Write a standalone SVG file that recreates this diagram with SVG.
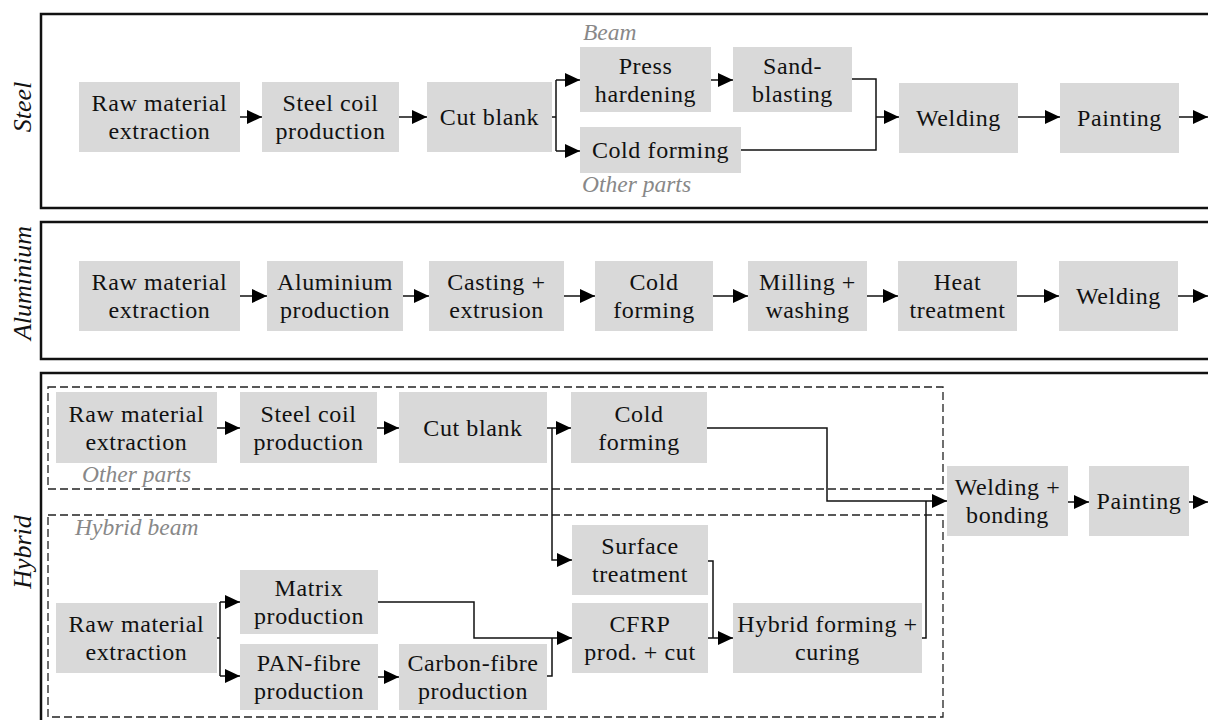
<svg xmlns="http://www.w3.org/2000/svg" width="1208" height="720" viewBox="0 0 1208 720">
<defs>
<marker id="ah" markerUnits="userSpaceOnUse" viewBox="0 0 15 14" markerWidth="15" markerHeight="14" refX="15" refY="7" orient="auto"><path d="M0,0L15,7L0,14z" fill="#000"/></marker>
<style>
.panel{fill:none;stroke:#111;stroke-width:2.5}
.dash{fill:none;stroke:#222;stroke-width:1.3;stroke-dasharray:8 4}
.n rect{fill:#d9d9d9}
.n text{font-family:"Liberation Serif",serif;font-size:24px;letter-spacing:0.6px;text-anchor:middle;fill:#111}
.side{font-family:"Liberation Serif",serif;font-style:italic;font-size:26px;text-anchor:middle;fill:#111}
.lbl{font-family:"Liberation Serif",serif;font-style:italic;font-size:23.5px;fill:#888}
#conn path{fill:none;stroke:#111;stroke-width:1.5}
#conn path.a{marker-end:url(#ah)}
</style>
</defs>
<rect width="1208" height="720" fill="#fff"/>
<g id="panels">
<rect class="panel" x="41" y="14" width="1180" height="194"/>
<rect class="panel" x="41" y="222" width="1180" height="137"/>
<rect class="panel" x="41" y="373" width="1180" height="360"/>
<rect class="dash" x="48" y="387" width="895" height="102"/>
<rect class="dash" x="48" y="515" width="895" height="202"/>
<text class="side" transform="translate(31,107) rotate(-90)">Steel</text>
<text class="side" transform="translate(31,283) rotate(-90)">Aluminium</text>
<text class="side" transform="translate(31,552) rotate(-90)">Hybrid</text>
<text class="lbl" x="583" y="40">Beam</text>
<text class="lbl" x="582" y="192">Other parts</text>
<text class="lbl" x="82" y="482">Other parts</text>
<text class="lbl" x="75" y="535">Hybrid beam</text>
</g>
<g id="conn">
<path class="a" d="M240,117H262"/>
<path class="a" d="M399,117H427"/>
<path d="M552,117H556M556,80V151"/>
<path class="a" d="M556,80H580"/>
<path class="a" d="M556,151H580"/>
<path class="a" d="M711,80H733"/>
<path d="M852,79H876V150H741"/>
<path class="a" d="M876,117H899"/>
<path class="a" d="M1018,117H1060"/>
<path class="a" d="M1179,117H1208"/>
<path class="a" d="M240,296H267"/>
<path class="a" d="M403,296H429"/>
<path class="a" d="M564,296H595"/>
<path class="a" d="M713,296H748"/>
<path class="a" d="M867,296H898"/>
<path class="a" d="M1017,296H1059"/>
<path class="a" d="M1178,296H1208"/>
<path class="a" d="M217,428H240"/>
<path class="a" d="M377,428H399"/>
<path class="a" d="M547,428H571"/>
<path class="a" d="M552,428V560H572"/>
<path class="a" d="M707,428H827V501H947"/>
<path d="M922,638H926V501"/>
<path class="a" d="M1068,502H1089"/>
<path class="a" d="M1189,502H1208"/>
<path d="M217,638H220M220,602V676"/>
<path class="a" d="M220,602H240"/>
<path class="a" d="M220,676H240"/>
<path class="a" d="M378,677H399"/>
<path class="a" d="M378,602H474V638H572"/>
<path d="M547,676H552V638"/>
<path d="M708,561H713V638"/>
<path class="a" d="M708,638H733"/>
</g>
<g id="s1" class="n"><rect x="79" y="82" width="161" height="70"/><text x="159.5" y="111">Raw material</text><text x="159.5" y="139">extraction</text></g>
<g id="s2" class="n"><rect x="262" y="82" width="137" height="70"/><text x="330.5" y="111">Steel coil</text><text x="330.5" y="139">production</text></g>
<g id="s3" class="n"><rect x="427" y="82" width="125" height="70"/><text x="489.5" y="125">Cut blank</text></g>
<g id="s4" class="n"><rect x="580" y="47" width="131" height="65"/><text x="645.5" y="74">Press</text><text x="645.5" y="102">hardening</text></g>
<g id="s5" class="n"><rect x="733" y="47" width="119" height="65"/><text x="792.5" y="74">Sand-</text><text x="792.5" y="102">blasting</text></g>
<g id="s6" class="n"><rect x="580" y="127" width="161" height="46"/><text x="660.5" y="158">Cold forming</text></g>
<g id="s7" class="n"><rect x="899" y="83" width="119" height="70"/><text x="958.5" y="126">Welding</text></g>
<g id="s8" class="n"><rect x="1060" y="83" width="119" height="70"/><text x="1119.5" y="126">Painting</text></g>
<g id="a1" class="n"><rect x="79" y="261" width="161" height="70"/><text x="159.5" y="290">Raw material</text><text x="159.5" y="318">extraction</text></g>
<g id="a2" class="n"><rect x="267" y="261" width="136" height="70"/><text x="335" y="290">Aluminium</text><text x="335" y="318">production</text></g>
<g id="a3" class="n"><rect x="429" y="261" width="135" height="70"/><text x="496.5" y="290">Casting +</text><text x="496.5" y="318">extrusion</text></g>
<g id="a4" class="n"><rect x="595" y="261" width="118" height="70"/><text x="654" y="290">Cold</text><text x="654" y="318">forming</text></g>
<g id="a5" class="n"><rect x="748" y="261" width="119" height="70"/><text x="807.5" y="290">Milling +</text><text x="807.5" y="318">washing</text></g>
<g id="a6" class="n"><rect x="898" y="261" width="119" height="70"/><text x="957.5" y="290">Heat</text><text x="957.5" y="318">treatment</text></g>
<g id="a7" class="n"><rect x="1059" y="261" width="119" height="70"/><text x="1118.5" y="304">Welding</text></g>
<g id="h1" class="n"><rect x="56" y="392" width="161" height="71"/><text x="136.5" y="421.5">Raw material</text><text x="136.5" y="449.5">extraction</text></g>
<g id="h2" class="n"><rect x="240" y="392" width="137" height="71"/><text x="308.5" y="421.5">Steel coil</text><text x="308.5" y="449.5">production</text></g>
<g id="h3" class="n"><rect x="399" y="392" width="148" height="71"/><text x="473" y="435.5">Cut blank</text></g>
<g id="h4" class="n"><rect x="571" y="392" width="136" height="71"/><text x="639" y="421.5">Cold</text><text x="639" y="449.5">forming</text></g>
<g id="h5" class="n"><rect x="947" y="466" width="121" height="70"/><text x="1007.5" y="495">Welding +</text><text x="1007.5" y="523">bonding</text></g>
<g id="h6" class="n"><rect x="1089" y="466" width="100" height="70"/><text x="1139" y="509">Painting</text></g>
<g id="h7" class="n"><rect x="572" y="525" width="136" height="70"/><text x="640" y="554">Surface</text><text x="640" y="582">treatment</text></g>
<g id="h8" class="n"><rect x="572" y="603" width="136" height="70"/><text x="640" y="632">CFRP</text><text x="640" y="660">prod. + cut</text></g>
<g id="h9" class="n"><rect x="56" y="603" width="161" height="70"/><text x="136.5" y="632">Raw material</text><text x="136.5" y="660">extraction</text></g>
<g id="h10" class="n"><rect x="240" y="570" width="138" height="64"/><text x="309" y="596">Matrix</text><text x="309" y="624">production</text></g>
<g id="h11" class="n"><rect x="240" y="644" width="138" height="66"/><text x="309" y="671">PAN-fibre</text><text x="309" y="699">production</text></g>
<g id="h12" class="n"><rect x="399" y="644" width="148" height="66"/><text x="473" y="671">Carbon-fibre</text><text x="473" y="699">production</text></g>
<g id="h13" class="n"><rect x="733" y="603" width="189" height="70"/><text x="827.5" y="632">Hybrid forming +</text><text x="827.5" y="660">curing</text></g>
</svg>
